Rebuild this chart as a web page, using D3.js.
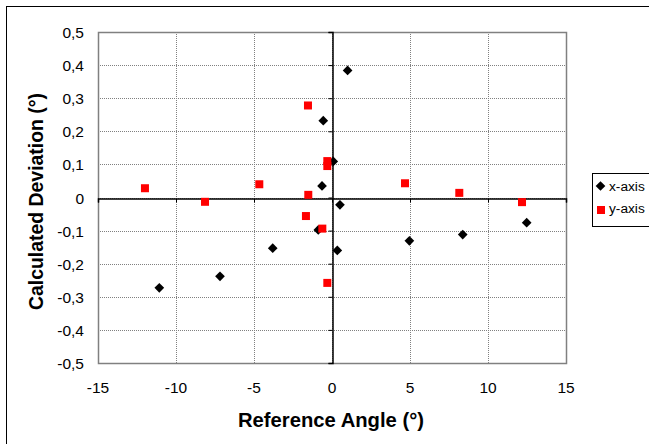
<!DOCTYPE html>
<html>
<head>
<meta charset="utf-8">
<script src="https://cdn.jsdelivr.net/npm/d3@7"></script>
<style>
  body { margin: 0; background: #fff; }
  svg { display: block; font-family: "Liberation Sans", Arial, sans-serif; }
</style>
</head>
<body>
<div id="chart"></div>
<script>
// series (reference angle, calculated deviation)
const xAxisX = [-11.07, -7.18, -3.8, -0.88, -0.64, -0.56, 0.08, 0.34, 0.51, 1.0, 4.96, 8.38, 12.48];
const xAxisY = [-0.273, -0.238, -0.153, -0.098, 0.035, 0.232, 0.109, -0.16, -0.022, 0.384, -0.131, -0.112, -0.076];
const yAxisX = [-11.99, -8.14, -4.66, -1.54, -1.52, -1.67, -0.62, -0.3, -0.3, -0.3, 4.68, 8.16, 12.18];
const yAxisY = [0.028, -0.013, 0.040, 0.278, 0.008, -0.056, -0.094, 0.11, 0.095, -0.258, 0.043, 0.014, -0.014];
const xTicks = [-15, -10, -5, 0, 5, 10, 15];
const yTicks = [-0.5, -0.4, -0.3, -0.2, -0.1, 0, 0.1, 0.2, 0.3, 0.4, 0.5];
const seriesNames = ["x-axis", "y-axis"];

const w = 649, h = 444;
const plot = {left: 98, right: 566, top: 32, bottom: 363};

const svg = d3.select("#chart").append("svg")
  .attr("width", w).attr("height", h);

// outer chart frame (right and bottom edges fall outside the picture)
svg.append("rect")
  .attr("x", 6.5).attr("y", 6.5)
  .attr("width", w + 20).attr("height", h + 20)
  .attr("fill", "#fff").attr("stroke", "#000").attr("stroke-width", 1);

const x = d3.scaleLinear().domain([-15, 15]).range([plot.left, plot.right]);
const y = d3.scaleLinear().domain([-0.5, 0.5]).range([plot.bottom, plot.top]);

const fmt = d => d === 0 ? "0" : d3.format(".1f")(d).replace(".", ",").replace("−", "-");

/** gridlines */
const grid = svg.append("g").attr("stroke", "#808080").attr("stroke-width", 1)
  .attr("stroke-dasharray", "1,1");
grid.selectAll("line.gx").data(xTicks.slice(1, -1)).join("line")
  .attr("x1", d => Math.round(x(d)) + 0.5).attr("x2", d => Math.round(x(d)) + 0.5)
  .attr("y1", plot.top).attr("y2", plot.bottom);
grid.selectAll("line.gy").data(yTicks.slice(1, -1)).join("line")
  .attr("y1", d => Math.round(y(d)) + 0.5).attr("y2", d => Math.round(y(d)) + 0.5)
  .attr("x1", plot.left).attr("x2", plot.right);

// plot border
svg.append("rect")
  .attr("x", plot.left + 0.5).attr("y", plot.top + 0.5)
  .attr("width", plot.right - plot.left).attr("height", plot.bottom - plot.top)
  .attr("fill", "none").attr("stroke", "#808080").attr("stroke-width", 1.5);

/** axes crossing at zero */
const xAx = svg.append("g")
  .attr("transform", "translate(0," + (Math.round(y(0)) + 0.5) + ")")
  .call(d3.axisBottom(x).tickValues(xTicks).tickSize(4).tickFormat(""));
const yAx = svg.append("g")
  .attr("transform", "translate(" + (Math.round(x(0)) + 0.5) + ",0)")
  .call(d3.axisLeft(y).tickValues(yTicks).tickSize(4).tickFormat(""));
[xAx, yAx].forEach(a => {
  a.select(".domain").attr("stroke", "#000").attr("stroke-width", 1.5);
  a.selectAll(".tick line").attr("stroke", "#000");
});

// tick labels sit at the plot edges
svg.append("g").selectAll("text").data(xTicks).join("text")
  .attr("x", d => x(d)).attr("y", 393)
  .attr("text-anchor", "middle").attr("font-size", 15.5).attr("fill", "#000")
  .text(d => d);
svg.append("g").selectAll("text").data(yTicks).join("text")
  .attr("x", 84).attr("y", d => y(d) + 6)
  .attr("text-anchor", "end").attr("font-size", 15.5).attr("fill", "#000")
  .text(fmt);

/** axis titles */
svg.append("text")
  .attr("x", 331).attr("y", 427)
  .attr("text-anchor", "middle").attr("font-size", 20.5).attr("font-weight", "bold")
  .attr("textLength", 186).attr("lengthAdjust", "spacingAndGlyphs")
  .text("Reference Angle (°)");
svg.append("text")
  .attr("transform", "translate(43,201.5) rotate(-90)")
  .attr("text-anchor", "middle").attr("font-size", 20.5).attr("font-weight", "bold")
  .attr("textLength", 217).attr("lengthAdjust", "spacingAndGlyphs")
  .text("Calculated Deviation (°)");

/** markers */
const diamond = d3.symbol().type(d3.symbolDiamond2).size(60);
svg.append("g").selectAll("path").data(d3.zip(xAxisX, xAxisY)).join("path")
  .attr("d", diamond)
  .attr("transform", d => "translate(" + x(d[0]) + "," + y(d[1]) + ")")
  .attr("fill", "#000");

svg.append("g").selectAll("rect").data(d3.zip(yAxisX, yAxisY)).join("rect")
  .attr("x", d => x(d[0]) - 4).attr("y", d => y(d[1]) - 4)
  .attr("width", 8).attr("height", 8)
  .attr("fill", "#ff0000");

/** legend */
const legend = svg.append("g").attr("transform", "translate(592.5,173.5)");
legend.append("rect").attr("width", 60).attr("height", 53)
  .attr("fill", "#fff").attr("stroke", "#000");
legend.append("path").attr("d", diamond)
  .attr("transform", "translate(8,12.5)").attr("fill", "#000");
legend.append("rect").attr("x", 4.5).attr("y", 32.5).attr("width", 8).attr("height", 8)
  .attr("fill", "#ff0000");
legend.selectAll("text").data(seriesNames).join("text")
  .attr("x", 16.5).attr("y", (d, i) => 17 + i * 22)
  .attr("font-size", 13.7).text(d => d);
</script>
</body>
</html>
